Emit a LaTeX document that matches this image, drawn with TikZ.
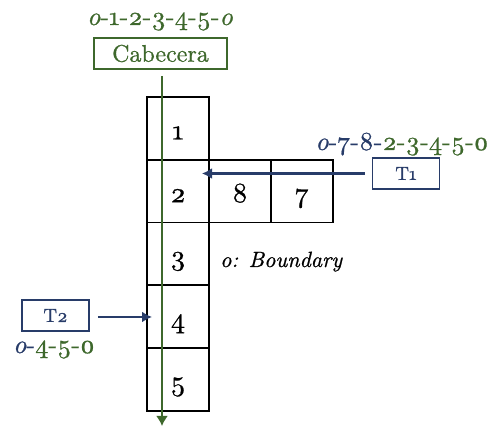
\documentclass[tikz,border=0pt]{standalone}
\usepackage{fontspec}
\setmainfont{lmroman10}[Extension=.otf,UprightFont=*-regular,ItalicFont=*-italic,
  BoldFont=*-bold,BoldItalicFont=*-bolditalic,Numbers=OldStyle,FakeBold=0.8]
\usetikzlibrary{arrows.meta}
\definecolor{tgreen}{RGB}{62,104,44}
\definecolor{tblue}{RGB}{40,60,105}
\begin{document}
\begin{tikzpicture}[x=1pt,y=-1pt,
  cellbox/.style={draw=black,line width=1.8pt,minimum width=62pt,minimum height=62.8pt,inner sep=0pt,
     text height=22pt,text depth=0pt,font=\fontsize{28}{32}\selectfont},
  tagbox/.style={draw=tblue,line width=1.5pt,minimum width=67pt,minimum height=31pt,inner sep=0pt,
     text=tblue,font=\fontsize{19}{22}\selectfont},
  seqtext/.style={inner sep=0pt,anchor=base,font=\fontsize{26}{30}\selectfont},
  tarrow/.style={draw=tblue,line width=2.2pt,-{Latex[length=10pt,width=11pt]}},
  garrow/.style={draw=tgreen,line width=2.2pt,-{Latex[length=10pt,width=12pt]}}]
\useasboundingbox (0,0) rectangle (493,427);
% cells
\node[cellbox] (c1) at (178,128.4) {1};
\node[cellbox] (c2) at (178,191.2) {2};
\node[cellbox] (c3) at (178,254.0) {3};
\node[cellbox] (c4) at (178,316.8) {4};
\node[cellbox] (c5) at (178,379.6) {5};
\node[cellbox] (c8) at (240,191.2) {8};
\node[cellbox] (c7) at (302,191.2) {7};
% header
\node[draw=tgreen,line width=1.5pt,minimum width=133pt,minimum height=31pt,inner sep=0pt,
  text=tgreen,font=\fontsize{24}{28}\selectfont] (cab) at (160.5,53.5) {Cabecera};
\node[seqtext,text=tgreen] (seq0) at (160,25) {\textit{o}-1-2-3-4-5-\textit{o}};
\coordinate (gtop) at (162,76);
\coordinate (gbot) at (162,426);
\draw[garrow] (gtop) -- (gbot);
% T1
\node[tagbox] (t1) at (406,173.5) {T1};
\coordinate (t1end) at (202,173.5);
\draw[tarrow] ([xshift=-7pt]t1.west) -- (t1end);
\node[seqtext] (seq1) at (402,150) {\textcolor{tblue}{\textit{o}-7-8-}\textcolor{tgreen}{2-3-4-5-0}};
% T2
\node[tagbox] (t2) at (55.5,315.5) {T2};
\coordinate (t2end) at (152,317);
\draw[tarrow] ([xshift=8pt]t2.east |- t2end) -- (t2end);
\node[seqtext] (seq2) at (54,353) {\textcolor{tblue}{\textit{o}-}\textcolor{tgreen}{4-5-0}};
% boundary
\node[inner sep=0pt,anchor=base west,font=\fontsize{22}{26}\selectfont\itshape] (bd) at (220,267) {o: Boundary};
\end{tikzpicture}
\end{document}
